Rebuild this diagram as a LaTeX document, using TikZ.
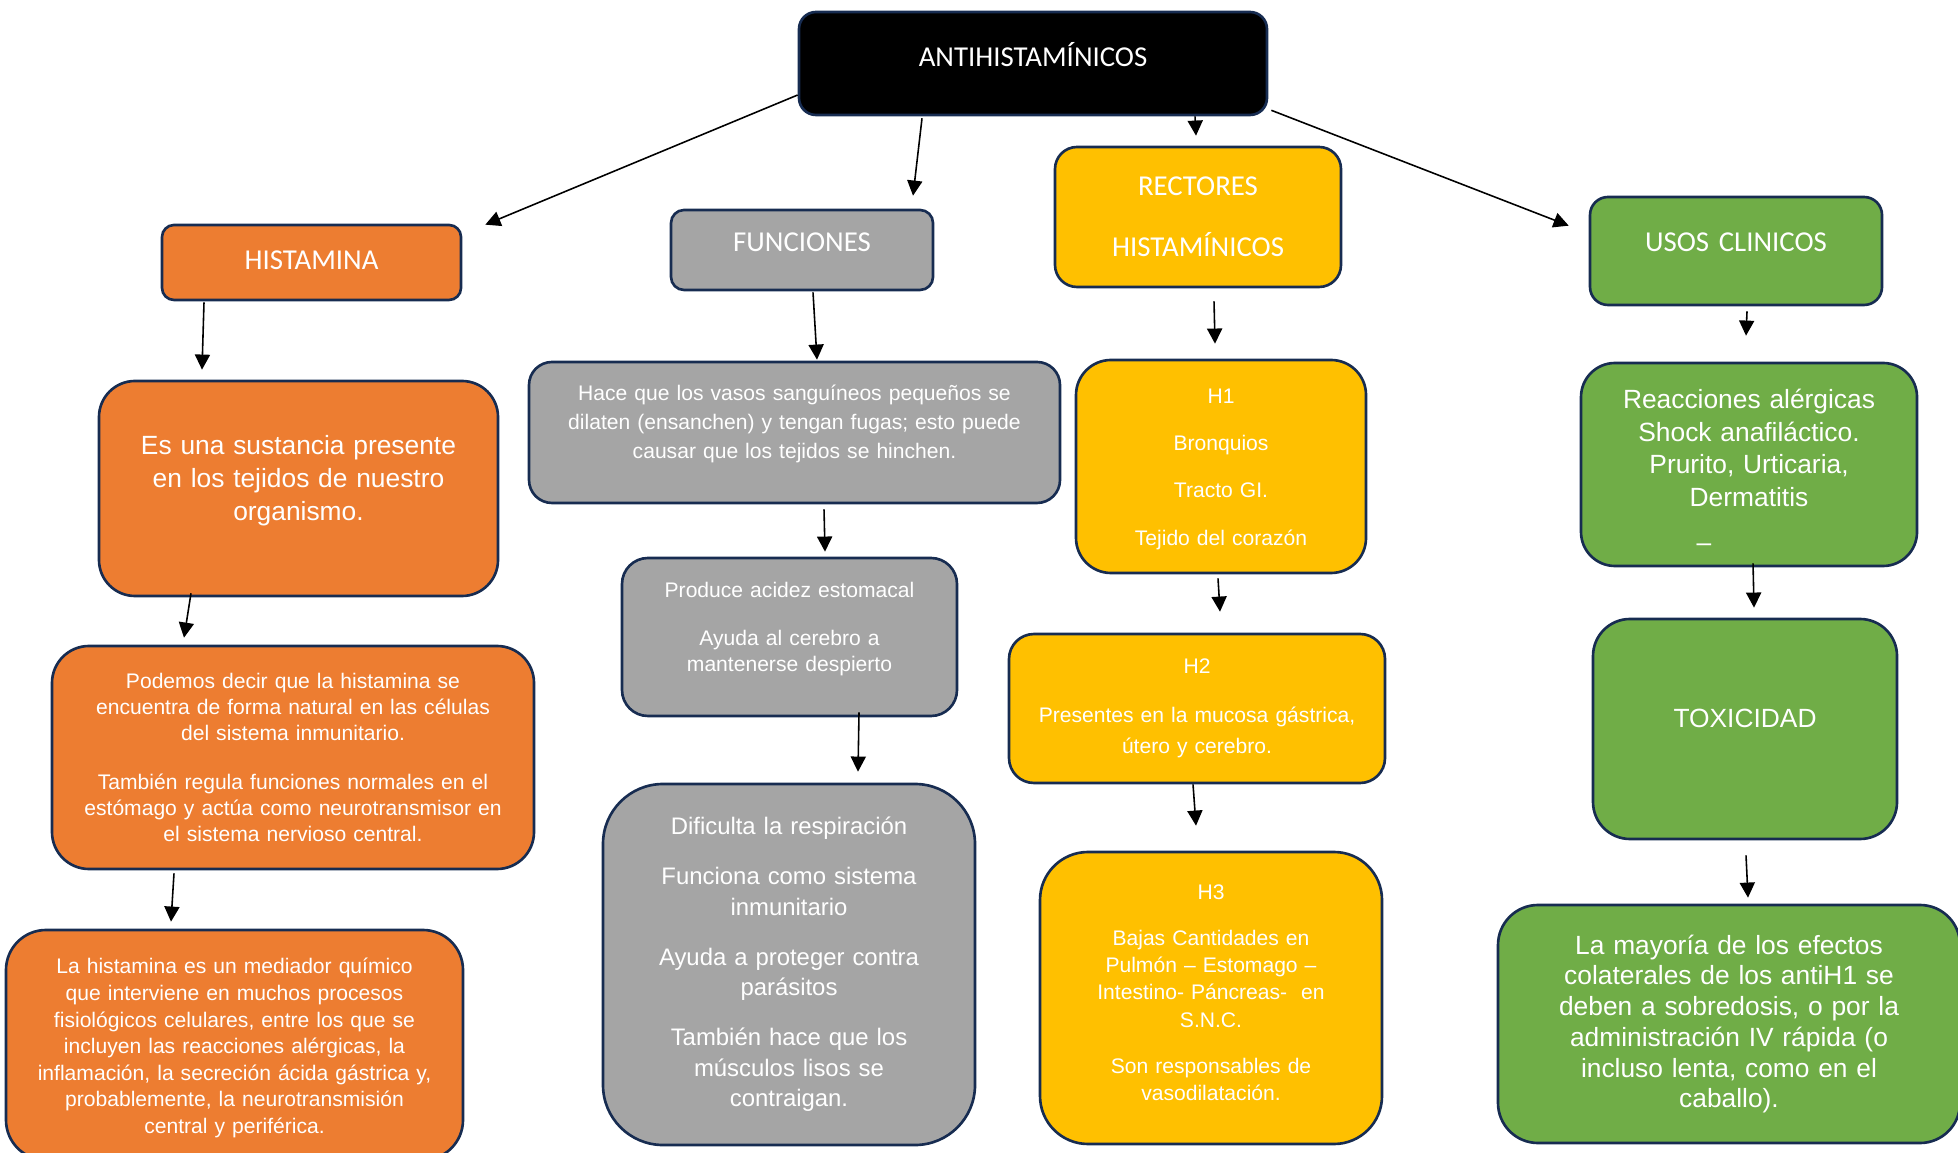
\documentclass[tikz,border=0pt]{standalone}
\usepackage{fontspec}
\setmainfont{Liberation Sans}
\newfontfamily\calibri{Carlito}
\usetikzlibrary{arrows.meta}
\definecolor{bordeAzul}{HTML}{172C51}
\definecolor{naranjaCaja}{HTML}{ED7D31}
\definecolor{grisCaja}{HTML}{A5A5A5}
\definecolor{amarilloCaja}{HTML}{FFC000}
\definecolor{verdeCaja}{HTML}{70AD47}

\begin{document}
\begin{tikzpicture}[
    caja/.style={draw=bordeAzul, line width=0.75pt, text=white, align=center, inner xsep=0pt},
    titulo/.style={font=\calibri\fontsize{8.2}{10}\selectfont},
    negro/.style={caja, fill=black},
    naranja/.style={caja, fill=naranjaCaja},
    gris/.style={caja, fill=grisCaja},
    amarillo/.style={caja, fill=amarilloCaja},
    verde/.style={caja, fill=verdeCaja},
    subir/.style={execute at end node={\endgraf\vspace*{#1}}},
    bajar/.style={execute at begin node={\rule{0pt}{\dimexpr\fontcharht\font`l+#1\relax}}},
    flecha/.style={line width=0.45pt, -{Triangle[length=4.3pt,width=4.3pt]}}
]
    \useasboundingbox (0,0) rectangle (19.58,-11.53);

    % cabeceras
    \node[negro, titulo, subir=5pt, minimum width=4.68cm, minimum height=1.03cm, text width=4.5cm, rounded corners=0.17cm] (anti) at (10.33,-0.635) {ANTIHISTAMÍNICOS};
    \node[naranja, titulo, subir=1pt, minimum width=2.99cm, minimum height=0.75cm, text width=2.8cm, rounded corners=0.12cm] (hist) at (3.115,-2.625) {HISTAMINA};
    \node[gris, titulo, subir=4.5pt, minimum width=2.62cm, minimum height=0.80cm, text width=2.5cm, rounded corners=0.13cm] (func) at (8.02,-2.50) {FUNCIONES};
    \node[amarillo, font=\calibri\fontsize{8.2}{17.4}\selectfont, minimum width=2.86cm, minimum height=1.40cm, text width=2.7cm, rounded corners=0.22cm] (rect) at (11.98,-2.17) {RECTORES\\HISTAMÍNICOS};
    \node[verde, titulo, subir=5pt, minimum width=2.92cm, minimum height=1.08cm, text width=2.8cm, rounded corners=0.18cm] (usos) at (17.36,-2.51) {USOS CLINICOS};

    % histamina
    \node[naranja, font=\fontsize{7.5}{9.4}\selectfont, subir=4.5pt, minimum width=3.99cm, minimum height=2.15cm, text width=3.85cm, rounded corners=0.36cm] (sust) at (2.985,-4.885) {Es una sustancia presente\\en los tejidos de nuestro\\organismo.};
    \node[naranja, font=\fontsize{6}{7.45}\selectfont, minimum width=4.82cm, minimum height=2.23cm, text width=4.7cm, rounded corners=0.37cm] (pod) at (2.93,-7.575) {Podemos decir que la histamina se\\encuentra de forma natural en las células\\del sistema inmunitario.\\[6.3pt]También regula funciones normales en el\\estómago y actúa como neurotransmisor en\\el sistema nervioso central.};
    \node[naranja, font=\fontsize{6}{7.57}\selectfont, bajar=2.1pt, minimum width=4.57cm, minimum height=2.30cm, text width=4.45cm, rounded corners=0.4cm] (med) at (2.345,-10.45) {La histamina es un mediador químico\\que interviene en muchos procesos\\fisiológicos celulares, entre los que se\\incluyen las reacciones alérgicas, la\\inflamación, la secreción ácida gástrica y,\\probablemente, la neurotransmisión\\central y periférica.};

    % funciones
    \node[gris, font=\fontsize{6}{8.2}\selectfont, subir=5pt, minimum width=5.31cm, minimum height=1.41cm, text width=5.2cm, rounded corners=0.23cm] (hace) at (7.945,-4.325) {Hace que los vasos sanguíneos pequeños se\\dilaten (ensanchen) y tengan fugas; esto puede\\causar que los tejidos se hinchen.};
    \node[gris, font=\fontsize{6}{7.4}\selectfont, subir=4.3pt, minimum width=3.35cm, minimum height=1.58cm, text width=3.2cm, rounded corners=0.26cm] (prod) at (7.895,-6.37) {Produce acidez estomacal\\[6.3pt]Ayuda al cerebro a\\mantenerse despierto};
    \node[gris, font=\fontsize{6.8}{8.7}\selectfont, minimum width=3.72cm, minimum height=3.61cm, text width=3.6cm, rounded corners=0.6cm] (dif) at (7.89,-9.645) {Dificulta la respiración\\[5.5pt]Funciona como sistema\\inmunitario\\[5.5pt]Ayuda a proteger contra\\parásitos\\[5.5pt]También hace que los\\músculos lisos se\\contraigan.};

    % receptores
    \node[amarillo, font=\fontsize{6}{13.5}\selectfont, bajar=1.5pt, minimum width=2.90cm, minimum height=2.13cm, text width=2.8cm, rounded corners=0.35cm] (h1) at (12.21,-4.665) {H1\\Bronquios\\Tracto GI.\\Tejido del corazón};
    \node[amarillo, font=\fontsize{6}{8.8}\selectfont, minimum width=3.76cm, minimum height=1.49cm, text width=3.65cm, rounded corners=0.25cm] (h2) at (11.97,-7.085) {H2\\[5.1pt]Presentes en la mucosa gástrica,\\útero y cerebro.};
    \node[amarillo, font=\fontsize{6}{7.7}\selectfont, subir=3pt, minimum width=3.42cm, minimum height=2.92cm, text width=3.3cm, rounded corners=0.48cm] (h3) at (12.11,-9.98) {H3\\[5.5pt]Bajas Cantidades en\\Pulmón – Estomago –\\Intestino- Páncreas-\ \ en\\S.N.C.\\[5.5pt]Son responsables de\\vasodilatación.};

    % usos clinicos
    \node[verde, font=\fontsize{7.5}{9.25}\selectfont, bajar=3.7pt, minimum width=3.36cm, minimum height=2.03cm, text width=3.25cm, rounded corners=0.34cm] (reac) at (17.49,-4.645) {Reacciones alérgicas\\Shock anafiláctico.\\Prurito, Urticaria,\\Dermatitis\\[3.6pt]–\hspace*{25.6pt}};
    \node[verde, font=\fontsize{7.5}{9}\selectfont, subir=6pt, minimum width=3.04cm, minimum height=2.20cm, text width=2.9cm, rounded corners=0.37cm] (tox) at (17.45,-7.29) {TOXICIDAD};
    \node[verde, font=\fontsize{7.5}{8.74}\selectfont, minimum width=4.62cm, minimum height=2.38cm, text width=4.5cm, rounded corners=0.4cm] (may) at (17.29,-10.24) {La mayoría de los efectos\\colaterales de los antiH1 se\\deben a sobredosis, o por la\\administración IV rápida (o\\incluso lenta, como en el\\caballo).};

    % flechas
    \draw[flecha] ([yshift=-0.315cm]anti.west) -- ([xshift=0.23cm,yshift=-0.01cm]hist.north east);
    \draw[flecha] ([xshift=-1.11cm,yshift=-0.02cm]anti.south) -- ([xshift=1.11cm,yshift=0.13cm]func.north);
    \draw[flecha] ([xshift=1.62cm]anti.south) -- ([xshift=-0.02cm,yshift=0.10cm]rect.north);
    \draw[flecha] ([xshift=0.03cm,yshift=0.06cm]anti.south east) -- ([xshift=-0.20cm,yshift=-0.30cm]usos.north west);

    \draw[flecha] ([xshift=-1.075cm,yshift=-0.01cm]hist.south) -- ([xshift=-0.965cm,yshift=0.10cm]sust.north);
    \draw[flecha] ([xshift=-1.075cm,yshift=0.04cm]sust.south) -- ([xshift=-1.09cm,yshift=0.07cm]pod.north);
    \draw[flecha] ([xshift=-1.19cm,yshift=-0.03cm]pod.south) -- ([xshift=-0.635cm,yshift=0.07cm]med.north);

    \draw[flecha] ([xshift=0.11cm,yshift=-0.01cm]func.south) -- ([xshift=0.225cm,yshift=0.01cm]hace.north);
    \draw[flecha] ([xshift=0.295cm,yshift=-0.05cm]hace.south) -- ([xshift=0.355cm,yshift=0.05cm]prod.north);
    \draw[flecha] ([xshift=0.695cm,yshift=0.05cm]prod.south) -- ([xshift=0.69cm,yshift=0.11cm]dif.north);

    \draw[flecha] ([xshift=0.16cm,yshift=-0.13cm]rect.south) -- ([xshift=-0.06cm,yshift=0.15cm]h1.north);
    \draw[flecha] ([xshift=-0.03cm,yshift=-0.04cm]h1.south) -- ([xshift=0.23cm,yshift=0.21cm]h2.north);
    \draw[flecha] ([xshift=-0.04cm]h2.south) -- ([xshift=-0.15cm,yshift=0.25cm]h3.north);

    \draw[flecha] ([xshift=0.11cm,yshift=-0.05cm]usos.south) -- ([xshift=-0.03cm,yshift=0.26cm]reac.north);
    \draw[flecha] ([xshift=0.04cm,yshift=0.04cm]reac.south) -- ([xshift=0.09cm,yshift=0.10cm]tox.north);
    \draw[flecha] ([xshift=0.01cm,yshift=-0.15cm]tox.south) -- ([xshift=0.19cm,yshift=0.06cm]may.north);
\end{tikzpicture}
\end{document}
